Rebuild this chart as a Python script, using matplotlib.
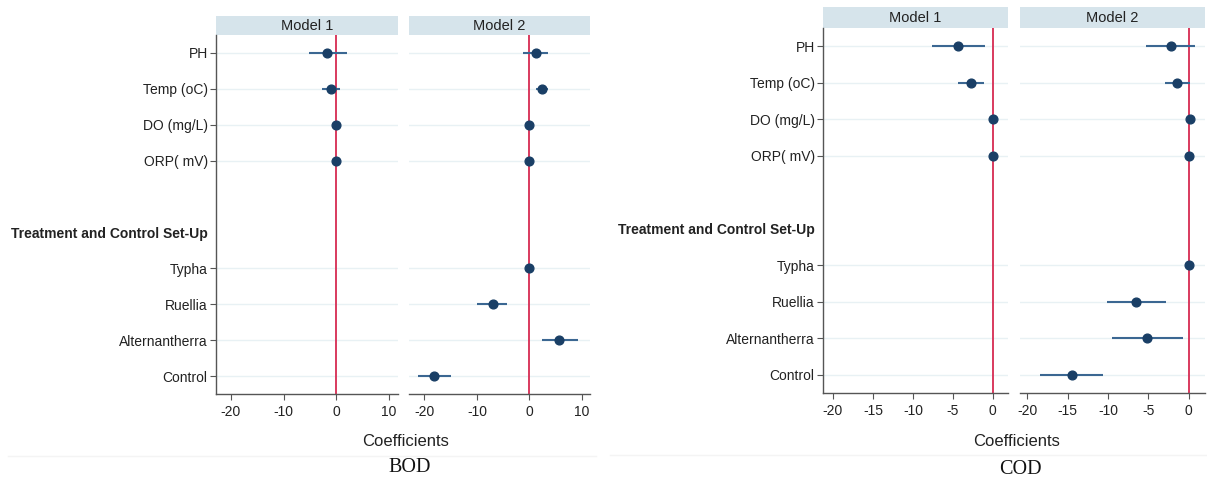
import numpy as np
import matplotlib.pyplot as plt
from matplotlib.patches import Rectangle
from matplotlib.lines import Line2D

plt.rcParams['font.family'] = ['Liberation Sans', 'DejaVu Sans']

# Lignes du graphique (de haut en bas), "" = ligne vide
rows = ["PH", "Temp (oC)", "DO (mg/L)", "ORP( mV)", "",
        "Treatment and Control Set-Up",
        "Typha", "Ruellia", "Alternantherra", "Control"]
header_row = "Treatment and Control Set-Up"

# BOD - coefficients et intervalles de confiance (nan = absent)
bod_m1_coef = [-1.7, -0.95, 0.0, 0.0, np.nan, np.nan, np.nan, np.nan, np.nan, np.nan]
bod_m1_lo = [-5.1, -2.8, -0.1, -0.1, np.nan, np.nan, np.nan, np.nan, np.nan, np.nan]
bod_m1_hi = [2.0, 0.7, 0.1, 0.1, np.nan, np.nan, np.nan, np.nan, np.nan, np.nan]
bod_m2_coef = [1.2, 2.3, 0.0, -0.1, np.nan, np.nan, 0.0, -7.0, 5.7, -18.2]
bod_m2_lo = [-1.2, 1.2, -0.1, -0.2, np.nan, np.nan, 0.0, -9.9, 2.3, -21.2]
bod_m2_hi = [3.6, 3.5, 0.1, 0.0, np.nan, np.nan, 0.0, -4.2, 9.3, -14.9]

# COD
cod_m1_coef = [-4.3, -2.75, 0.0, 0.0, np.nan, np.nan, np.nan, np.nan, np.nan, np.nan]
cod_m1_lo = [-7.6, -4.3, -0.05, -0.05, np.nan, np.nan, np.nan, np.nan, np.nan, np.nan]
cod_m1_hi = [-1.0, -1.1, 0.05, 0.05, np.nan, np.nan, np.nan, np.nan, np.nan, np.nan]
cod_m2_coef = [-2.2, -1.5, 0.15, 0.0, np.nan, np.nan, 0.0, -6.5, -5.2, -14.45]
cod_m2_lo = [-5.3, -3.0, 0.1, -0.05, np.nan, np.nan, 0.0, -10.1, -9.5, -18.4]
cod_m2_hi = [0.8, 0.1, 0.2, 0.05, np.nan, np.nan, 0.0, -2.8, -0.7, -10.6]

model_names = ["Model 1", "Model 2"]
bod_ticks = [-20, -10, 0, 10]
cod_ticks = [-20, -15, -10, -5, 0]

W, H = 1207, 483
fig = plt.figure(figsize=(W / 100, H / 100), dpi=100)

dot_col = "#1a3f66"
ci_col = "#3b6792"
red = "#d93a5e"
strip_col = "#d6e4eb"
spine_col = "#555555"
grid_col = "#e8f1f4"
txt_col = "#222222"

def px_axes(x0, x1, y0, y1):
    # coordonnées en pixels (origine en haut à gauche)
    return fig.add_axes([x0 / W, 1 - y1 / H, (x1 - x0) / W, (y1 - y0) / H])

def draw_panel(ax, coef, lo, hi, xlim, ticks, first, strip_h, title):
    pos = np.arange(len(rows))
    data_rows = [i for i, r in enumerate(rows) if r and r != header_row]
    for i in data_rows:
        ax.axhline(i, color=grid_col, lw=1.0, zorder=0)
    ax.axvline(0, color=red, lw=1.4, zorder=1)
    for i in data_rows:
        if np.isnan(coef[i]):
            continue
        ax.plot([lo[i], hi[i]], [i, i], color=ci_col, lw=1.5, zorder=2,
                solid_capstyle="butt")
        ax.plot(coef[i], i, "o", color=dot_col, ms=6.3, zorder=3)
    ax.set_xlim(*xlim)
    ax.set_ylim(len(rows) - 0.5, -0.5)
    ax.set_xticks(ticks)
    ax.set_xticklabels([str(t) for t in ticks], fontsize=10, color=txt_col)
    ax.tick_params(axis="x", length=4, width=0.8, color=spine_col, pad=4)
    for s in ["top", "right"]:
        ax.spines[s].set_visible(False)
    ax.spines["bottom"].set_color(spine_col)
    ax.spines["bottom"].set_linewidth(1.0)
    if first:
        ax.spines["left"].set_color(spine_col)
        ax.spines["left"].set_linewidth(1.0)
        ax.set_yticks(pos)
        ax.set_yticklabels(rows, fontsize=10, color=txt_col)
        ax.tick_params(axis="y", length=4, width=0.8, color=spine_col, pad=2)
        ticks_y = ax.yaxis.get_major_ticks()
        for i, r in enumerate(rows):
            if r == header_row:
                ticks_y[i].tick1line.set_visible(False)
                ticks_y[i].label1.set_fontweight("bold")
            if r == "":
                ticks_y[i].tick1line.set_visible(False)
    else:
        ax.spines["left"].set_visible(False)
        ax.set_yticks([])
    # bandeau du titre
    bbox_h = ax.get_position().height * H
    ax.add_patch(Rectangle((0, 1), 1, strip_h / bbox_h, transform=ax.transAxes,
                           facecolor=strip_col, edgecolor="none", clip_on=False))
    ax.text(0.5, 1 + strip_h / bbox_h / 2, title, transform=ax.transAxes,
            ha="center", va="center", fontsize=10.5, color=txt_col)

# BOD
ax1 = px_axes(216, 398, 35, 394)
ax2 = px_axes(409, 590, 35, 394)
draw_panel(ax1, bod_m1_coef, bod_m1_lo, bod_m1_hi, (-22.8, 11.7), bod_ticks, True, 19, model_names[0])
draw_panel(ax2, bod_m2_coef, bod_m2_lo, bod_m2_hi, (-22.9, 11.5), bod_ticks, False, 19, model_names[1])

# COD
ax3 = px_axes(823, 1008, 28, 393)
ax4 = px_axes(1020, 1205, 28, 393)
draw_panel(ax3, cod_m1_coef, cod_m1_lo, cod_m1_hi, (-21.25, 1.9), cod_ticks, True, 21, model_names[0])
draw_panel(ax4, cod_m2_coef, cod_m2_lo, cod_m2_hi, (-20.9, 2.0), cod_ticks, False, 21, model_names[1])

# titres des axes et légendes
fig.text(406 / W, 1 - 442 / H, "Coefficients", ha="center", va="center", fontsize=12, color=txt_col)
fig.text(1017 / W, 1 - 441 / H, "Coefficients", ha="center", va="center", fontsize=12, color=txt_col)
fig.text(410 / W, 1 - 468 / H, "BOD", ha="center", va="center", fontsize=14.5,
         family=["Liberation Serif", "DejaVu Serif"], color="#111111")
fig.text(1020 / W, 1 - 469 / H, "COD", ha="center", va="center", fontsize=14.5,
         family=["Liberation Serif", "DejaVu Serif"], color="#111111")

# lignes de séparation pâles
fig.add_artist(Line2D([8 / W, 596 / W], [1 - 456 / H] * 2, color="#f4f4f4", lw=1))
fig.add_artist(Line2D([610 / W, 1207 / W], [1 - 455 / H] * 2, color="#f4f4f4", lw=1))

fig.savefig("out.png", dpi=100)
